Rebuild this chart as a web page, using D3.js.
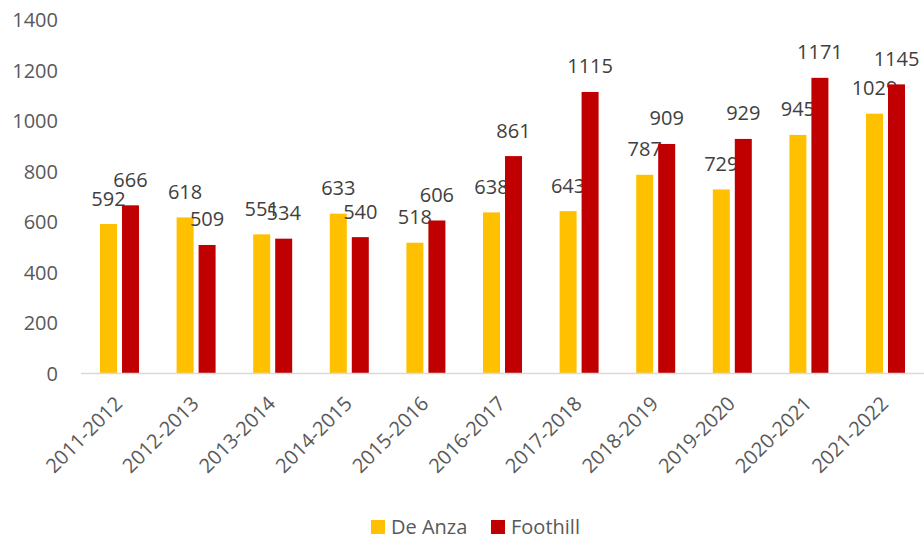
<!DOCTYPE html>
<html>
<head>
<meta charset="utf-8">
<script src="https://cdn.jsdelivr.net/npm/d3@7"></script>
<style>
  body { margin: 0; background: #fff; }
  svg { display: block; font-family: "Open Sans", sans-serif; }
</style>
</head>
<body>
<div id="chart"></div>
<script>
// Data
const years = ["2011-2012", "2012-2013", "2013-2014", "2014-2015", "2015-2016", "2016-2017",
               "2017-2018", "2018-2019", "2019-2020", "2020-2021", "2021-2022"];
const deAnza   = [592, 618, 551, 633, 518, 638, 643, 787, 729, 945, 1029];
const foothill = [666, 509, 534, 540, 606, 861, 1115, 909, 929, 1171, 1145];
const seriesNames = ["De Anza", "Foothill"];
const yTicks = [0, 200, 400, 600, 800, 1000, 1200, 1400];

const width = 924;
const height = 537;
const colors = { "De Anza": "#FFC000", "Foothill": "#C00000" };

const series = [
  { name: "De Anza", values: deAnza },
  { name: "Foothill", values: foothill }
];

const svg = d3.select("#chart").append("svg")
    .attr("width", width)
    .attr("height", height);

// scales
const x0 = d3.scaleBand()
    .domain(years)
    .range([81, 924])
    .paddingInner(0.491)
    .paddingOuter(0.248);

const x1 = d3.scaleBand()
    .domain(seriesNames)
    .range([0, x0.bandwidth()])
    .paddingInner(0.227);

const y = d3.scaleLinear()
    .domain([0, 1400])
    .range([373.5, 20]);

// y axis labels (no line, no ticks)
svg.append("g")
    .selectAll("text")
    .data(yTicks)
    .join("text")
      .attr("x", 58)
      .attr("y", d => y(d))
      .attr("dy", "0.36em")
      .attr("text-anchor", "end")
      .attr("font-size", 20)
      .attr("fill", "#595959")
      .text(d => d);

// bars
const groups = svg.append("g")
  .selectAll("g")
  .data(series)
  .join("g")
    .attr("fill", d => colors[d.name]);

groups.selectAll("rect")
  .data(s => s.values.map((v, i) => ({ name: s.name, year: years[i], value: v })))
  .join("rect")
    .attr("x", d => x0(d.year) + x1(d.name))
    .attr("y", d => y(d.value))
    .attr("width", x1.bandwidth())
    .attr("height", d => y(0) - y(d.value));

// data labels
groups.selectAll("text")
  .data(s => s.values.map((v, i) => ({ name: s.name, year: years[i], value: v })))
  .join("text")
    .attr("x", d => x0(d.year) + x1(d.name) + x1.bandwidth() / 2)
    .attr("y", d => y(d.value) - 18.5)
    .attr("text-anchor", "middle")
    .attr("font-size", 20)
    .attr("fill", "#404040")
    .text(d => d.value);

// x axis line
svg.append("line")
    .attr("x1", 81)
    .attr("x2", 924)
    .attr("y1", y(0))
    .attr("y2", y(0))
    .attr("stroke", "#d9d9d9")
    .attr("stroke-width", 1.5);

// x axis labels, rotated
svg.append("g")
  .selectAll("text")
  .data(years)
  .join("text")
    .attr("transform", d => `translate(${x0(d) + x0.bandwidth() / 2 + 4},405) rotate(-45)`)
    .attr("text-anchor", "end")
    .attr("font-size", 20)
    .attr("fill", "#595959")
    .text(d => d);

// legend
const legend = svg.append("g");
const legendX = [371, 491];
seriesNames.forEach((name, i) => {
  legend.append("rect")
      .attr("x", legendX[i])
      .attr("y", 520)
      .attr("width", 14)
      .attr("height", 14)
      .attr("fill", colors[name]);
  legend.append("text")
      .attr("x", legendX[i] + 20)
      .attr("y", 534)
      .attr("font-size", 20)
      .attr("fill", "#595959")
      .text(name);
});
</script>
</body>
</html>
